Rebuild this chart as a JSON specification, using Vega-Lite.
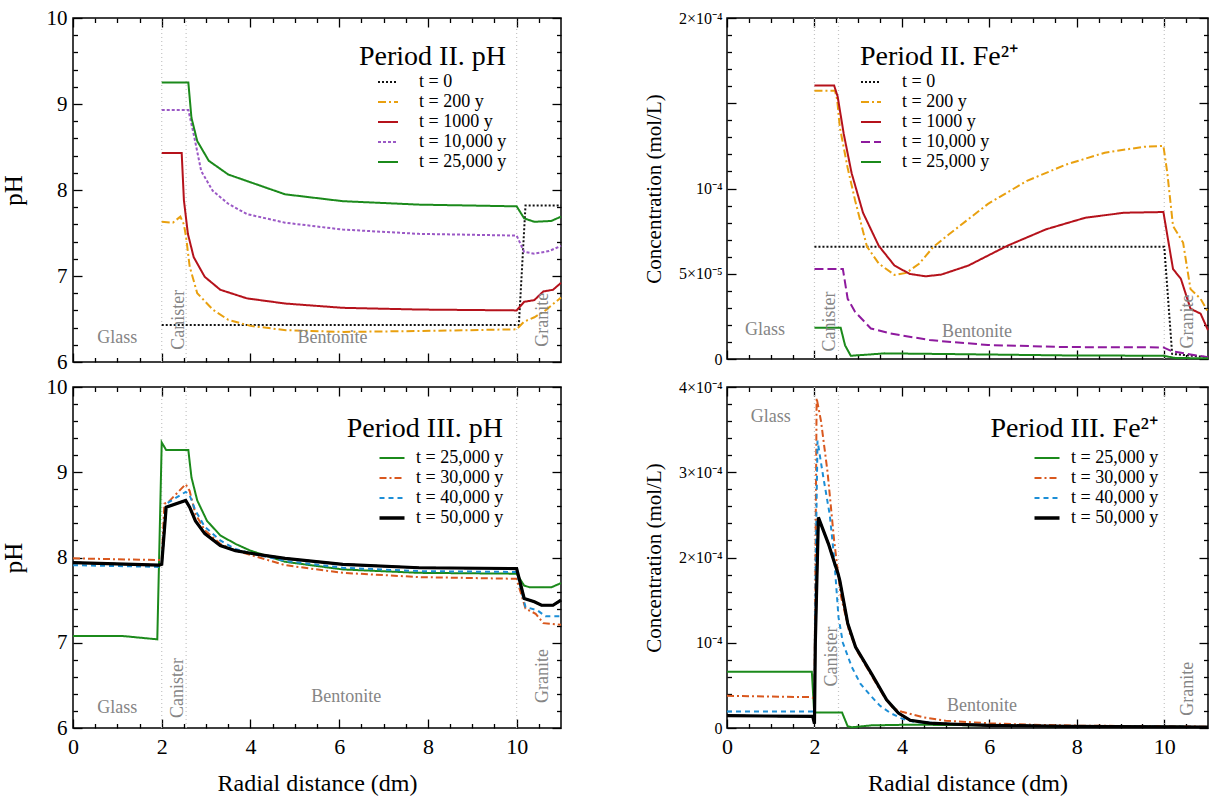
{
  "$schema": "https://vega.github.io/schema/vega-lite/v6.json",
  "padding": {"left": 0, "top": 6, "right": 0, "bottom": 0},
  "background": "white",
  "bounds": "flush",
  "columns": 2,
  "spacing": {"row": 25, "column": 166},
  "resolve": {"scale": {"color": "independent", "strokeDash": "independent", "x": "independent", "y": "independent"}, "legend": {"color": "independent", "strokeDash": "independent"}},
  "config": {
    "font": "Liberation Serif",
    "view": {"stroke": "black", "strokeWidth": 1.5},
    "axis": {"grid": false, "domain": false, "tickColor": "black", "labelColor": "black", "titleColor": "black", "labelFont": "Liberation Serif", "titleFont": "Liberation Serif", "titleFontWeight": "normal", "labelFlush": false, "labelOverlap": false, "tickWidth": 1.3, "labelLimit": 300},
    "legend": {"labelFont": "Liberation Serif", "labelFontSize": 18, "labelColor": "black", "titleFont": "Liberation Serif", "titleFontSize": 28, "titleFontWeight": "normal", "titleColor": "black", "symbolType": "stroke", "symbolSize": 625, "symbolStrokeWidth": 2, "rowPadding": 2, "labelOffset": 15, "titleAnchor": "end", "titlePadding": 6, "orient": "none", "titleLimit": 500, "labelLimit": 300},
    "text": {"font": "Liberation Serif"}
  },
  "datasets": {
    "bounds": [{"x": 2}, {"x": 2.55}, {"x": 10}],
    "regions": [
      {"panel": "tl", "name": "Glass", "x": 1.0, "y": 6.28},
      {"panel": "tl", "name": "Canister", "x": 2.38, "y": 6.49},
      {"panel": "tl", "name": "Bentonite", "x": 5.85, "y": 6.28},
      {"panel": "tl", "name": "Granite", "x": 10.6, "y": 6.49},
      {"panel": "tr", "name": "Glass", "x": 0.87, "y": 1.7e-5},
      {"panel": "tr", "name": "Canister", "x": 2.35, "y": 2.2e-5},
      {"panel": "tr", "name": "Bentonite", "x": 5.72, "y": 1.6e-5},
      {"panel": "tr", "name": "Granite", "x": 10.54, "y": 2.2e-5},
      {"panel": "bl", "name": "Glass", "x": 1.0, "y": 6.23},
      {"panel": "bl", "name": "Canister", "x": 2.37, "y": 6.47},
      {"panel": "bl", "name": "Bentonite", "x": 6.16, "y": 6.36},
      {"panel": "bl", "name": "Granite", "x": 10.6, "y": 6.61},
      {"panel": "br", "name": "Glass", "x": 1.0, "y": 3.65e-4},
      {"panel": "br", "name": "Canister", "x": 2.4, "y": 8.4e-5},
      {"panel": "br", "name": "Bentonite", "x": 5.83, "y": 2.6e-5},
      {"panel": "br", "name": "Granite", "x": 10.55, "y": 4.6e-5}
    ],
    "tl": [
      {"t": "t = 0", "x": 2, "v": 6.43}, {"t": "t = 0", "x": 10.05, "v": 6.43}, {"t": "t = 0", "x": 10.2, "v": 7.82}, {"t": "t = 0", "x": 11, "v": 7.82},
      {"t": "t = 200 y", "x": 2, "v": 7.63}, {"t": "t = 200 y", "x": 2.25, "v": 7.62}, {"t": "t = 200 y", "x": 2.42, "v": 7.69}, {"t": "t = 200 y", "x": 2.5, "v": 7.6}, {"t": "t = 200 y", "x": 2.55, "v": 7.45}, {"t": "t = 200 y", "x": 2.63, "v": 7.11}, {"t": "t = 200 y", "x": 2.8, "v": 6.8}, {"t": "t = 200 y", "x": 3.15, "v": 6.61}, {"t": "t = 200 y", "x": 3.5, "v": 6.49}, {"t": "t = 200 y", "x": 4, "v": 6.42}, {"t": "t = 200 y", "x": 4.8, "v": 6.37}, {"t": "t = 200 y", "x": 6.1, "v": 6.35}, {"t": "t = 200 y", "x": 7.8, "v": 6.36}, {"t": "t = 200 y", "x": 10, "v": 6.38}, {"t": "t = 200 y", "x": 10.17, "v": 6.47}, {"t": "t = 200 y", "x": 10.4, "v": 6.52}, {"t": "t = 200 y", "x": 10.65, "v": 6.6}, {"t": "t = 200 y", "x": 11, "v": 6.75},
      {"t": "t = 1000 y", "x": 2, "v": 8.43}, {"t": "t = 1000 y", "x": 2.45, "v": 8.43}, {"t": "t = 1000 y", "x": 2.5, "v": 7.88}, {"t": "t = 1000 y", "x": 2.59, "v": 7.49}, {"t": "t = 1000 y", "x": 2.72, "v": 7.22}, {"t": "t = 1000 y", "x": 2.97, "v": 6.99}, {"t": "t = 1000 y", "x": 3.32, "v": 6.84}, {"t": "t = 1000 y", "x": 3.92, "v": 6.74}, {"t": "t = 1000 y", "x": 4.78, "v": 6.68}, {"t": "t = 1000 y", "x": 6.08, "v": 6.63}, {"t": "t = 1000 y", "x": 7.8, "v": 6.61}, {"t": "t = 1000 y", "x": 10, "v": 6.6}, {"t": "t = 1000 y", "x": 10.17, "v": 6.7}, {"t": "t = 1000 y", "x": 10.4, "v": 6.72}, {"t": "t = 1000 y", "x": 10.6, "v": 6.82}, {"t": "t = 1000 y", "x": 10.82, "v": 6.84}, {"t": "t = 1000 y", "x": 11, "v": 6.92},
      {"t": "t = 10,000 y", "x": 2, "v": 8.93}, {"t": "t = 10,000 y", "x": 2.6, "v": 8.93}, {"t": "t = 10,000 y", "x": 2.72, "v": 8.65}, {"t": "t = 10,000 y", "x": 2.89, "v": 8.22}, {"t": "t = 10,000 y", "x": 3.15, "v": 7.99}, {"t": "t = 10,000 y", "x": 3.5, "v": 7.84}, {"t": "t = 10,000 y", "x": 3.92, "v": 7.72}, {"t": "t = 10,000 y", "x": 4.78, "v": 7.62}, {"t": "t = 10,000 y", "x": 6.08, "v": 7.54}, {"t": "t = 10,000 y", "x": 7.8, "v": 7.49}, {"t": "t = 10,000 y", "x": 10, "v": 7.47}, {"t": "t = 10,000 y", "x": 10.17, "v": 7.28}, {"t": "t = 10,000 y", "x": 10.4, "v": 7.26}, {"t": "t = 10,000 y", "x": 10.73, "v": 7.29}, {"t": "t = 10,000 y", "x": 11, "v": 7.35},
      {"t": "t = 25,000 y", "x": 2, "v": 9.25}, {"t": "t = 25,000 y", "x": 2.6, "v": 9.25}, {"t": "t = 25,000 y", "x": 2.67, "v": 8.84}, {"t": "t = 25,000 y", "x": 2.8, "v": 8.57}, {"t": "t = 25,000 y", "x": 3.06, "v": 8.34}, {"t": "t = 25,000 y", "x": 3.5, "v": 8.18}, {"t": "t = 25,000 y", "x": 4, "v": 8.09}, {"t": "t = 25,000 y", "x": 4.78, "v": 7.95}, {"t": "t = 25,000 y", "x": 6.08, "v": 7.87}, {"t": "t = 25,000 y", "x": 7.8, "v": 7.83}, {"t": "t = 25,000 y", "x": 10, "v": 7.81}, {"t": "t = 25,000 y", "x": 10.17, "v": 7.67}, {"t": "t = 25,000 y", "x": 10.4, "v": 7.63}, {"t": "t = 25,000 y", "x": 10.78, "v": 7.64}, {"t": "t = 25,000 y", "x": 11, "v": 7.69}
    ],
    "tr": [
      {"t": "t = 0", "x": 2, "v": 6.58e-5}, {"t": "t = 0", "x": 10, "v": 6.58e-5}, {"t": "t = 0", "x": 10.18, "v": 3e-6}, {"t": "t = 0", "x": 11, "v": 1e-6},
      {"t": "t = 200 y", "x": 2, "v": 1.573e-4}, {"t": "t = 200 y", "x": 2.47, "v": 1.573e-4}, {"t": "t = 200 y", "x": 2.52, "v": 1.52e-4}, {"t": "t = 200 y", "x": 2.58, "v": 1.36e-4}, {"t": "t = 200 y", "x": 2.76, "v": 1.12e-4}, {"t": "t = 200 y", "x": 2.93, "v": 9.3e-5}, {"t": "t = 200 y", "x": 3.2, "v": 6.6e-5}, {"t": "t = 200 y", "x": 3.47, "v": 5.6e-5}, {"t": "t = 200 y", "x": 3.83, "v": 4.93e-5}, {"t": "t = 200 y", "x": 4.1, "v": 5.05e-5}, {"t": "t = 200 y", "x": 4.4, "v": 5.6e-5}, {"t": "t = 200 y", "x": 4.72, "v": 6.58e-5}, {"t": "t = 200 y", "x": 5.07, "v": 7.3e-5}, {"t": "t = 200 y", "x": 5.97, "v": 9.1e-5}, {"t": "t = 200 y", "x": 6.86, "v": 1.045e-4}, {"t": "t = 200 y", "x": 7.75, "v": 1.14e-4}, {"t": "t = 200 y", "x": 8.64, "v": 1.21e-4}, {"t": "t = 200 y", "x": 9.54, "v": 1.245e-4}, {"t": "t = 200 y", "x": 9.98, "v": 1.25e-4}, {"t": "t = 200 y", "x": 10.07, "v": 1.09e-4}, {"t": "t = 200 y", "x": 10.2, "v": 7.8e-5}, {"t": "t = 200 y", "x": 10.43, "v": 6.83e-5}, {"t": "t = 200 y", "x": 10.6, "v": 4.1e-5}, {"t": "t = 200 y", "x": 10.83, "v": 3.53e-5}, {"t": "t = 200 y", "x": 11, "v": 2.76e-5},
      {"t": "t = 1000 y", "x": 2, "v": 1.604e-4}, {"t": "t = 1000 y", "x": 2.45, "v": 1.604e-4}, {"t": "t = 1000 y", "x": 2.53, "v": 1.54e-4}, {"t": "t = 1000 y", "x": 2.67, "v": 1.32e-4}, {"t": "t = 1000 y", "x": 2.85, "v": 1.09e-4}, {"t": "t = 1000 y", "x": 3.11, "v": 8.58e-5}, {"t": "t = 1000 y", "x": 3.47, "v": 6.64e-5}, {"t": "t = 1000 y", "x": 3.83, "v": 5.48e-5}, {"t": "t = 1000 y", "x": 4.18, "v": 4.99e-5}, {"t": "t = 1000 y", "x": 4.54, "v": 4.85e-5}, {"t": "t = 1000 y", "x": 4.9, "v": 4.95e-5}, {"t": "t = 1000 y", "x": 5.52, "v": 5.48e-5}, {"t": "t = 1000 y", "x": 6.41, "v": 6.64e-5}, {"t": "t = 1000 y", "x": 7.3, "v": 7.61e-5}, {"t": "t = 1000 y", "x": 8.2, "v": 8.29e-5}, {"t": "t = 1000 y", "x": 9.09, "v": 8.58e-5}, {"t": "t = 1000 y", "x": 9.98, "v": 8.62e-5}, {"t": "t = 1000 y", "x": 10.2, "v": 5.28e-5}, {"t": "t = 1000 y", "x": 10.38, "v": 4.7e-5}, {"t": "t = 1000 y", "x": 10.6, "v": 2.95e-5}, {"t": "t = 1000 y", "x": 10.83, "v": 2.66e-5}, {"t": "t = 1000 y", "x": 11, "v": 1.69e-5},
      {"t": "t = 10,000 y", "x": 2, "v": 5.28e-5}, {"t": "t = 10,000 y", "x": 2.65, "v": 5.28e-5}, {"t": "t = 10,000 y", "x": 2.76, "v": 3.53e-5}, {"t": "t = 10,000 y", "x": 2.93, "v": 2.76e-5}, {"t": "t = 10,000 y", "x": 3.29, "v": 1.79e-5}, {"t": "t = 10,000 y", "x": 3.74, "v": 1.5e-5}, {"t": "t = 10,000 y", "x": 4.63, "v": 1.11e-5}, {"t": "t = 10,000 y", "x": 5.97, "v": 8.2e-6}, {"t": "t = 10,000 y", "x": 7.75, "v": 7e-6}, {"t": "t = 10,000 y", "x": 9.98, "v": 6.8e-6}, {"t": "t = 10,000 y", "x": 10.16, "v": 4.7e-6}, {"t": "t = 10,000 y", "x": 10.6, "v": 2.7e-6}, {"t": "t = 10,000 y", "x": 11, "v": 1e-6},
      {"t": "t = 25,000 y", "x": 2, "v": 1.83e-5}, {"t": "t = 25,000 y", "x": 2.6, "v": 1.83e-5}, {"t": "t = 25,000 y", "x": 2.7, "v": 8e-6}, {"t": "t = 25,000 y", "x": 2.83, "v": 1.9e-6}, {"t": "t = 25,000 y", "x": 3.29, "v": 2.7e-6}, {"t": "t = 25,000 y", "x": 3.6, "v": 3.3e-6}, {"t": "t = 25,000 y", "x": 5.07, "v": 2.9e-6}, {"t": "t = 25,000 y", "x": 7.75, "v": 2.1e-6}, {"t": "t = 25,000 y", "x": 9.98, "v": 1.9e-6}, {"t": "t = 25,000 y", "x": 10.25, "v": 6e-7}, {"t": "t = 25,000 y", "x": 11, "v": 4e-7}
    ],
    "bl": [
      {"t": "t = 25,000 y", "x": 0, "v": 7.08}, {"t": "t = 25,000 y", "x": 1.1, "v": 7.08}, {"t": "t = 25,000 y", "x": 1.9, "v": 7.04}, {"t": "t = 25,000 y", "x": 2.0, "v": 9.35}, {"t": "t = 25,000 y", "x": 2.1, "v": 9.26}, {"t": "t = 25,000 y", "x": 2.6, "v": 9.26}, {"t": "t = 25,000 y", "x": 2.67, "v": 8.94}, {"t": "t = 25,000 y", "x": 2.8, "v": 8.67}, {"t": "t = 25,000 y", "x": 3.02, "v": 8.43}, {"t": "t = 25,000 y", "x": 3.32, "v": 8.26}, {"t": "t = 25,000 y", "x": 3.66, "v": 8.16}, {"t": "t = 25,000 y", "x": 4, "v": 8.08}, {"t": "t = 25,000 y", "x": 4.78, "v": 7.95}, {"t": "t = 25,000 y", "x": 6.08, "v": 7.86}, {"t": "t = 25,000 y", "x": 7.8, "v": 7.82}, {"t": "t = 25,000 y", "x": 10, "v": 7.81}, {"t": "t = 25,000 y", "x": 10.17, "v": 7.67}, {"t": "t = 25,000 y", "x": 10.3, "v": 7.65}, {"t": "t = 25,000 y", "x": 10.78, "v": 7.65}, {"t": "t = 25,000 y", "x": 11, "v": 7.7},
      {"t": "t = 30,000 y", "x": 0, "v": 7.99}, {"t": "t = 30,000 y", "x": 1.94, "v": 7.97}, {"t": "t = 30,000 y", "x": 2.0, "v": 7.97}, {"t": "t = 30,000 y", "x": 2.06, "v": 8.63}, {"t": "t = 30,000 y", "x": 2.15, "v": 8.65}, {"t": "t = 30,000 y", "x": 2.54, "v": 8.86}, {"t": "t = 30,000 y", "x": 2.63, "v": 8.78}, {"t": "t = 30,000 y", "x": 2.76, "v": 8.51}, {"t": "t = 30,000 y", "x": 2.97, "v": 8.32}, {"t": "t = 30,000 y", "x": 3.32, "v": 8.16}, {"t": "t = 30,000 y", "x": 3.66, "v": 8.08}, {"t": "t = 30,000 y", "x": 4, "v": 8.03}, {"t": "t = 30,000 y", "x": 4.78, "v": 7.91}, {"t": "t = 30,000 y", "x": 6.08, "v": 7.82}, {"t": "t = 30,000 y", "x": 7.8, "v": 7.77}, {"t": "t = 30,000 y", "x": 10, "v": 7.75}, {"t": "t = 30,000 y", "x": 10.2, "v": 7.4}, {"t": "t = 30,000 y", "x": 10.43, "v": 7.34}, {"t": "t = 30,000 y", "x": 10.6, "v": 7.23}, {"t": "t = 30,000 y", "x": 11, "v": 7.21},
      {"t": "t = 40,000 y", "x": 0, "v": 7.91}, {"t": "t = 40,000 y", "x": 1.94, "v": 7.89}, {"t": "t = 40,000 y", "x": 2.0, "v": 7.9}, {"t": "t = 40,000 y", "x": 2.1, "v": 8.63}, {"t": "t = 40,000 y", "x": 2.54, "v": 8.77}, {"t": "t = 40,000 y", "x": 2.63, "v": 8.73}, {"t": "t = 40,000 y", "x": 2.76, "v": 8.55}, {"t": "t = 40,000 y", "x": 2.97, "v": 8.36}, {"t": "t = 40,000 y", "x": 3.32, "v": 8.2}, {"t": "t = 40,000 y", "x": 3.66, "v": 8.1}, {"t": "t = 40,000 y", "x": 4, "v": 8.05}, {"t": "t = 40,000 y", "x": 4.78, "v": 7.96}, {"t": "t = 40,000 y", "x": 6.08, "v": 7.88}, {"t": "t = 40,000 y", "x": 7.8, "v": 7.84}, {"t": "t = 40,000 y", "x": 10, "v": 7.83}, {"t": "t = 40,000 y", "x": 10.2, "v": 7.42}, {"t": "t = 40,000 y", "x": 10.47, "v": 7.38}, {"t": "t = 40,000 y", "x": 10.65, "v": 7.31}, {"t": "t = 40,000 y", "x": 11, "v": 7.31},
      {"t": "t = 50,000 y", "x": 0, "v": 7.94}, {"t": "t = 50,000 y", "x": 1.94, "v": 7.91}, {"t": "t = 50,000 y", "x": 2.0, "v": 7.92}, {"t": "t = 50,000 y", "x": 2.1, "v": 8.59}, {"t": "t = 50,000 y", "x": 2.54, "v": 8.67}, {"t": "t = 50,000 y", "x": 2.63, "v": 8.59}, {"t": "t = 50,000 y", "x": 2.76, "v": 8.43}, {"t": "t = 50,000 y", "x": 2.97, "v": 8.28}, {"t": "t = 50,000 y", "x": 3.32, "v": 8.14}, {"t": "t = 50,000 y", "x": 3.66, "v": 8.08}, {"t": "t = 50,000 y", "x": 4, "v": 8.05}, {"t": "t = 50,000 y", "x": 4.78, "v": 7.99}, {"t": "t = 50,000 y", "x": 6.08, "v": 7.92}, {"t": "t = 50,000 y", "x": 7.8, "v": 7.88}, {"t": "t = 50,000 y", "x": 10, "v": 7.87}, {"t": "t = 50,000 y", "x": 10.17, "v": 7.52}, {"t": "t = 50,000 y", "x": 10.4, "v": 7.48}, {"t": "t = 50,000 y", "x": 10.56, "v": 7.44}, {"t": "t = 50,000 y", "x": 10.82, "v": 7.44}, {"t": "t = 50,000 y", "x": 11, "v": 7.5}
    ],
    "br": [
      {"t": "t = 25,000 y", "x": 0, "v": 6.61e-5}, {"t": "t = 25,000 y", "x": 1.94, "v": 6.61e-5}, {"t": "t = 25,000 y", "x": 1.99, "v": 2.1e-5}, {"t": "t = 25,000 y", "x": 2.01, "v": 1.83e-5}, {"t": "t = 25,000 y", "x": 2.63, "v": 1.83e-5}, {"t": "t = 25,000 y", "x": 2.76, "v": 2e-6}, {"t": "t = 25,000 y", "x": 2.85, "v": 8e-7}, {"t": "t = 25,000 y", "x": 3.3, "v": 3.1e-6}, {"t": "t = 25,000 y", "x": 4.19, "v": 3.9e-6}, {"t": "t = 25,000 y", "x": 5.97, "v": 3.1e-6}, {"t": "t = 25,000 y", "x": 7.75, "v": 1.9e-6}, {"t": "t = 25,000 y", "x": 11, "v": 1.2e-6},
      {"t": "t = 30,000 y", "x": 0, "v": 3.77e-5}, {"t": "t = 30,000 y", "x": 1.92, "v": 3.62e-5}, {"t": "t = 30,000 y", "x": 2.0, "v": 3.5e-5}, {"t": "t = 30,000 y", "x": 2.05, "v": 3.87e-4}, {"t": "t = 30,000 y", "x": 2.15, "v": 3.6e-4}, {"t": "t = 30,000 y", "x": 2.3, "v": 3.0e-4}, {"t": "t = 30,000 y", "x": 2.45, "v": 2.2e-4}, {"t": "t = 30,000 y", "x": 2.6, "v": 1.56e-4}, {"t": "t = 30,000 y", "x": 2.8, "v": 1.12e-4}, {"t": "t = 30,000 y", "x": 3.0, "v": 8.8e-5}, {"t": "t = 30,000 y", "x": 3.3, "v": 6.2e-5}, {"t": "t = 30,000 y", "x": 3.6, "v": 3.6e-5}, {"t": "t = 30,000 y", "x": 3.8, "v": 2.3e-5}, {"t": "t = 30,000 y", "x": 4.0, "v": 1.9e-5}, {"t": "t = 30,000 y", "x": 4.5, "v": 1.25e-5}, {"t": "t = 30,000 y", "x": 5.0, "v": 8.5e-6}, {"t": "t = 30,000 y", "x": 6.0, "v": 5.5e-6}, {"t": "t = 30,000 y", "x": 7.0, "v": 3.8e-6}, {"t": "t = 30,000 y", "x": 8.0, "v": 2.8e-6}, {"t": "t = 30,000 y", "x": 10, "v": 2e-6}, {"t": "t = 30,000 y", "x": 11, "v": 1.5e-6},
      {"t": "t = 40,000 y", "x": 0, "v": 1.95e-5}, {"t": "t = 40,000 y", "x": 1.97, "v": 1.95e-5}, {"t": "t = 40,000 y", "x": 2.0, "v": 1.0e-5}, {"t": "t = 40,000 y", "x": 2.03, "v": 2.0e-4}, {"t": "t = 40,000 y", "x": 2.07, "v": 3.37e-4}, {"t": "t = 40,000 y", "x": 2.2, "v": 2.95e-4}, {"t": "t = 40,000 y", "x": 2.35, "v": 2.5e-4}, {"t": "t = 40,000 y", "x": 2.45, "v": 2.0e-4}, {"t": "t = 40,000 y", "x": 2.55, "v": 1.3e-4}, {"t": "t = 40,000 y", "x": 2.65, "v": 1.0e-4}, {"t": "t = 40,000 y", "x": 2.85, "v": 7.2e-5}, {"t": "t = 40,000 y", "x": 3.05, "v": 5.2e-5}, {"t": "t = 40,000 y", "x": 3.3, "v": 3.7e-5}, {"t": "t = 40,000 y", "x": 3.5, "v": 2.6e-5}, {"t": "t = 40,000 y", "x": 3.74, "v": 1.75e-5}, {"t": "t = 40,000 y", "x": 4.0, "v": 1.1e-5}, {"t": "t = 40,000 y", "x": 4.3, "v": 7e-6}, {"t": "t = 40,000 y", "x": 5.5, "v": 4e-6}, {"t": "t = 40,000 y", "x": 7, "v": 2.5e-6}, {"t": "t = 40,000 y", "x": 11, "v": 1.2e-6},
      {"t": "t = 50,000 y", "x": 0, "v": 1.44e-5}, {"t": "t = 50,000 y", "x": 1.96, "v": 1.36e-5}, {"t": "t = 50,000 y", "x": 2.0, "v": 5e-6}, {"t": "t = 50,000 y", "x": 2.02, "v": 1.0e-4}, {"t": "t = 50,000 y", "x": 2.09, "v": 2.47e-4}, {"t": "t = 50,000 y", "x": 2.32, "v": 2.16e-4}, {"t": "t = 50,000 y", "x": 2.45, "v": 1.95e-4}, {"t": "t = 50,000 y", "x": 2.54, "v": 1.81e-4}, {"t": "t = 50,000 y", "x": 2.58, "v": 1.73e-4}, {"t": "t = 50,000 y", "x": 2.76, "v": 1.23e-4}, {"t": "t = 50,000 y", "x": 2.94, "v": 9.5e-5}, {"t": "t = 50,000 y", "x": 3.3, "v": 6.4e-5}, {"t": "t = 50,000 y", "x": 3.65, "v": 3.3e-5}, {"t": "t = 50,000 y", "x": 3.92, "v": 1.75e-5}, {"t": "t = 50,000 y", "x": 4.19, "v": 9e-6}, {"t": "t = 50,000 y", "x": 4.63, "v": 5.8e-6}, {"t": "t = 50,000 y", "x": 5.08, "v": 4.7e-6}, {"t": "t = 50,000 y", "x": 5.97, "v": 3.1e-6}, {"t": "t = 50,000 y", "x": 7.75, "v": 1.9e-6}, {"t": "t = 50,000 y", "x": 11, "v": 1.2e-6}
    ]
  },
  "concat": [
    {
      "width": 488, "height": 344,
      "data": {"name": "tl"},
      "resolve": {"axis": {"x": "independent", "y": "independent"}},
      "layer": [
        {"data": {"name": "bounds"}, "mark": {"type": "rule", "color": "#c4c4c4", "strokeDash": [1, 3], "strokeWidth": 1.2},
         "encoding": {
           "x": {"field": "x", "type": "quantitative", "scale": {"domain": [0, 11], "nice": false}, "axis": {"orient": "top", "values": [0.5,1,1.5,2.5,3,3.5,4.5,5,5.5,6.5,7,7.5,8.5,9,9.5,10.5], "labels": false, "tickSize": -4.5, "title": null}},
           "y": {"datum": 6, "type": "quantitative", "scale": {"domain": [6, 10], "nice": false}, "axis": {"orient": "right", "values": [6.2,6.4,6.6,6.8,7.2,7.4,7.6,7.8,8.2,8.4,8.6,8.8,9.2,9.4,9.6,9.8], "labels": false, "tickSize": -4.5, "title": null}},
           "y2": {"datum": 10}}},
        {"mark": {"type": "line", "strokeWidth": 2},
         "encoding": {
           "x": {"field": "x", "type": "quantitative", "scale": {"domain": [0, 11], "nice": false}, "axis": {"orient": "bottom", "values": [0,2,4,6,8,10], "labels": false, "tickSize": -9, "title": null}},
           "y": {"field": "v", "type": "quantitative", "scale": {"domain": [6, 10], "nice": false}, "axis": {"orient": "left", "values": [6,7,8,9,10], "tickSize": -9, "labelFontSize": 21, "labelPadding": 15, "title": "pH", "titleFontSize": 25, "titlePadding": 20}},
           "color": {"field": "t", "type": "nominal", "scale": {"domain": ["t = 0", "t = 200 y", "t = 1000 y", "t = 10,000 y", "t = 25,000 y"], "range": ["#111111", "#E9A00F", "#B5121B", "#9B59C6", "#1B8A1B"]}, "legend": {"title": "Period II. pH", "legendX": 286, "legendY": 25, "titlePadding": 0, "symbolSize": 400, "rowPadding": 0, "labelOffset": 20, "encode": {"symbols": {"update": {"strokeWidth": {"value": 2}}}}}},
           "strokeDash": {"field": "t", "type": "nominal", "scale": {"domain": ["t = 0", "t = 200 y", "t = 1000 y", "t = 10,000 y", "t = 25,000 y"], "range": [[2, 2], [8, 3, 2, 3], [1, 0], [3, 2], [1, 0]]}, "legend": {"title": "Period II. pH", "legendX": 286, "legendY": 25, "titlePadding": 0, "symbolSize": 400, "rowPadding": 0, "labelOffset": 20, "encode": {"symbols": {"update": {"strokeWidth": {"value": 2}}}}}}}},
        {"data": {"name": "regions"}, "transform": [{"filter": "datum.panel === 'tl' && (datum.name === 'Glass' || datum.name === 'Bentonite')"}],
         "mark": {"type": "text", "fontSize": 18, "color": "#858585", "align": "center", "baseline": "middle"},
         "encoding": {
           "text": {"field": "name"},
           "x": {"field": "x", "type": "quantitative", "axis": {"orient": "bottom", "values": [0.5,1,1.5,2.5,3,3.5,4.5,5,5.5,6.5,7,7.5,8.5,9,9.5,10.5], "labels": false, "tickSize": -4.5, "title": null}},
           "y": {"field": "y", "type": "quantitative", "axis": {"orient": "left", "values": [6.2,6.4,6.6,6.8,7.2,7.4,7.6,7.8,8.2,8.4,8.6,8.8,9.2,9.4,9.6,9.8], "labels": false, "tickSize": -4.5, "title": null}}}},
        {"data": {"name": "regions"}, "transform": [{"filter": "datum.panel === 'tl' && (datum.name === 'Canister' || datum.name === 'Granite')"}],
         "mark": {"type": "text", "fontSize": 18, "color": "#858585", "align": "center", "baseline": "middle", "angle": 270},
         "encoding": {
           "text": {"field": "name"},
           "x": {"field": "x", "type": "quantitative", "axis": {"orient": "top", "values": [0,2,4,6,8,10], "labels": false, "tickSize": -9, "title": null}},
           "y": {"field": "y", "type": "quantitative", "axis": {"orient": "right", "values": [6,7,8,9,10], "labels": false, "tickSize": -9, "title": null}}}}
      ]
    },
    {
      "width": 481, "height": 341,
      "data": {"name": "tr"},
      "resolve": {"axis": {"x": "independent", "y": "independent"}},
      "layer": [
        {"data": {"name": "bounds"}, "mark": {"type": "rule", "color": "#c4c4c4", "strokeDash": [1, 3], "strokeWidth": 1.2},
         "encoding": {
           "x": {"field": "x", "type": "quantitative", "scale": {"domain": [0, 11], "nice": false}, "axis": {"orient": "top", "values": [0.5,1,1.5,2.5,3,3.5,4.5,5,5.5,6.5,7,7.5,8.5,9,9.5,10.5], "labels": false, "tickSize": -4.5, "title": null}},
           "y": {"datum": 0, "type": "quantitative", "scale": {"domain": [0, 0.0002], "nice": false}, "axis": {"orient": "right", "values": [1e-5,2e-5,3e-5,4e-5,6e-5,7e-5,8e-5,9e-5,1.1e-4,1.2e-4,1.3e-4,1.4e-4,1.6e-4,1.7e-4,1.8e-4,1.9e-4], "labels": false, "tickSize": -4.5, "title": null}},
           "y2": {"datum": 0.0002}}},
        {"mark": {"type": "line", "strokeWidth": 2},
         "encoding": {
           "x": {"field": "x", "type": "quantitative", "scale": {"domain": [0, 11], "nice": false}, "axis": {"orient": "bottom", "values": [0,2,4,6,8,10], "labels": false, "tickSize": -9, "title": null}},
           "y": {"field": "v", "type": "quantitative", "scale": {"domain": [0, 0.0002], "nice": false}, "axis": {"orient": "left", "values": [0, 5e-5, 1e-4, 1.5e-4, 2e-4], "labelExpr": "datum.value < 1e-6 ? '0' : datum.value < 7e-5 ? '5×10⁻⁵' : datum.value < 1.2e-4 ? '10⁻⁴' : datum.value < 1.7e-4 ? '' : '2×10⁻⁴'", "tickSize": -9, "labelFontSize": 16, "labelPadding": 14, "title": "Concentration (mol/L)", "titleFontSize": 21, "titlePadding": 14}},
           "color": {"field": "t", "type": "nominal", "scale": {"domain": ["t = 0", "t = 200 y", "t = 1000 y", "t = 10,000 y", "t = 25,000 y"], "range": ["#111111", "#E9A00F", "#B5121B", "#8E1A9E", "#1B8A1B"]}, "legend": {"title": "Period II. Fe²⁺", "legendX": 133, "legendY": 25, "titlePadding": 0, "titleAnchor": "start", "symbolSize": 400, "rowPadding": 0, "labelOffset": 20, "encode": {"symbols": {"update": {"strokeWidth": {"value": 2}}}}}},
           "strokeDash": {"field": "t", "type": "nominal", "scale": {"domain": ["t = 0", "t = 200 y", "t = 1000 y", "t = 10,000 y", "t = 25,000 y"], "range": [[2, 2], [8, 3, 2, 3], [1, 0], [9, 4], [1, 0]]}, "legend": {"title": "Period II. Fe²⁺", "legendX": 133, "legendY": 25, "titlePadding": 0, "titleAnchor": "start", "symbolSize": 400, "rowPadding": 0, "labelOffset": 20, "encode": {"symbols": {"update": {"strokeWidth": {"value": 2}}}}}}}},
        {"data": {"name": "regions"}, "transform": [{"filter": "datum.panel === 'tr' && (datum.name === 'Glass' || datum.name === 'Bentonite')"}],
         "mark": {"type": "text", "fontSize": 18, "color": "#858585", "align": "center", "baseline": "middle"},
         "encoding": {
           "text": {"field": "name"},
           "x": {"field": "x", "type": "quantitative", "axis": {"orient": "bottom", "values": [0.5,1,1.5,2.5,3,3.5,4.5,5,5.5,6.5,7,7.5,8.5,9,9.5,10.5], "labels": false, "tickSize": -4.5, "title": null}},
           "y": {"field": "y", "type": "quantitative", "axis": {"orient": "left", "values": [1e-5,2e-5,3e-5,4e-5,6e-5,7e-5,8e-5,9e-5,1.1e-4,1.2e-4,1.3e-4,1.4e-4,1.6e-4,1.7e-4,1.8e-4,1.9e-4], "labels": false, "tickSize": -4.5, "title": null}}}},
        {"data": {"name": "regions"}, "transform": [{"filter": "datum.panel === 'tr' && (datum.name === 'Canister' || datum.name === 'Granite')"}],
         "mark": {"type": "text", "fontSize": 18, "color": "#858585", "align": "center", "baseline": "middle", "angle": 270},
         "encoding": {
           "text": {"field": "name"},
           "x": {"field": "x", "type": "quantitative", "axis": {"orient": "top", "values": [0,2,4,6,8,10], "labels": false, "tickSize": -9, "title": null}},
           "y": {"field": "y", "type": "quantitative", "axis": {"orient": "right", "values": [0, 5e-5, 1e-4, 1.5e-4, 2e-4], "labels": false, "tickSize": -9, "title": null}}}}
      ]
    },
    {
      "width": 488, "height": 341,
      "data": {"name": "bl"},
      "resolve": {"axis": {"x": "independent", "y": "independent"}},
      "layer": [
        {"data": {"name": "bounds"}, "mark": {"type": "rule", "color": "#c4c4c4", "strokeDash": [1, 3], "strokeWidth": 1.2},
         "encoding": {
           "x": {"field": "x", "type": "quantitative", "scale": {"domain": [0, 11], "nice": false}, "axis": {"orient": "top", "values": [0.5,1,1.5,2.5,3,3.5,4.5,5,5.5,6.5,7,7.5,8.5,9,9.5,10.5], "labels": false, "tickSize": -4.5, "title": null}},
           "y": {"datum": 6, "type": "quantitative", "scale": {"domain": [6, 10], "nice": false}, "axis": {"orient": "right", "values": [6.2,6.4,6.6,6.8,7.2,7.4,7.6,7.8,8.2,8.4,8.6,8.8,9.2,9.4,9.6,9.8], "labels": false, "tickSize": -4.5, "title": null}},
           "y2": {"datum": 10}}},
        {"mark": {"type": "line", "strokeWidth": 2},
         "encoding": {
           "x": {"field": "x", "type": "quantitative", "scale": {"domain": [0, 11], "nice": false}, "axis": {"orient": "bottom", "values": [0,2,4,6,8,10], "tickSize": -9, "labelFontSize": 22, "labelPadding": 17, "title": "Radial distance (dm)", "titleFontSize": 24, "titlePadding": 14}},
           "y": {"field": "v", "type": "quantitative", "scale": {"domain": [6, 10], "nice": false}, "axis": {"orient": "left", "values": [6,7,8,9,10], "tickSize": -9, "labelFontSize": 21, "labelPadding": 15, "title": "pH", "titleFontSize": 25, "titlePadding": 20}},
           "color": {"field": "t", "type": "nominal", "scale": {"domain": ["t = 25,000 y", "t = 30,000 y", "t = 40,000 y", "t = 50,000 y"], "range": ["#1B8A1B", "#D9581E", "#1C8ED6", "#000000"]}, "legend": {"title": "Period III. pH", "legendX": 274, "legendY": 28, "encode": {"symbols": {"update": {"strokeWidth": {"signal": "datum.value === 't = 50,000 y' ? 3.4 : 2"}}}}}},
           "strokeDash": {"field": "t", "type": "nominal", "scale": {"domain": ["t = 25,000 y", "t = 30,000 y", "t = 40,000 y", "t = 50,000 y"], "range": [[1, 0], [7, 3, 2, 3], [5, 4], [1, 0]]}, "legend": {"title": "Period III. pH", "legendX": 274, "legendY": 28, "encode": {"symbols": {"update": {"strokeWidth": {"signal": "datum.value === 't = 50,000 y' ? 3.4 : 2"}}}}}}}},
        {"transform": [{"filter": "datum.t === 't = 50,000 y'"}], "mark": {"type": "line", "strokeWidth": 3.2, "color": "#000000"},
         "encoding": {"x": {"field": "x", "type": "quantitative", "axis": null}, "y": {"field": "v", "type": "quantitative", "axis": null}}},
        {"data": {"name": "regions"}, "transform": [{"filter": "datum.panel === 'bl' && (datum.name === 'Glass' || datum.name === 'Bentonite')"}],
         "mark": {"type": "text", "fontSize": 18, "color": "#858585", "align": "center", "baseline": "middle"},
         "encoding": {
           "text": {"field": "name"},
           "x": {"field": "x", "type": "quantitative", "axis": {"orient": "bottom", "values": [0.5,1,1.5,2.5,3,3.5,4.5,5,5.5,6.5,7,7.5,8.5,9,9.5,10.5], "labels": false, "tickSize": -4.5, "title": null}},
           "y": {"field": "y", "type": "quantitative", "axis": {"orient": "left", "values": [6.2,6.4,6.6,6.8,7.2,7.4,7.6,7.8,8.2,8.4,8.6,8.8,9.2,9.4,9.6,9.8], "labels": false, "tickSize": -4.5, "title": null}}}},
        {"data": {"name": "regions"}, "transform": [{"filter": "datum.panel === 'bl' && (datum.name === 'Canister' || datum.name === 'Granite')"}],
         "mark": {"type": "text", "fontSize": 18, "color": "#858585", "align": "center", "baseline": "middle", "angle": 270},
         "encoding": {
           "text": {"field": "name"},
           "x": {"field": "x", "type": "quantitative", "axis": {"orient": "top", "values": [0,2,4,6,8,10], "labels": false, "tickSize": -9, "title": null}},
           "y": {"field": "y", "type": "quantitative", "axis": {"orient": "right", "values": [6,7,8,9,10], "labels": false, "tickSize": -9, "title": null}}}}
      ]
    },
    {
      "width": 481, "height": 341,
      "data": {"name": "br"},
      "resolve": {"axis": {"x": "independent", "y": "independent"}},
      "layer": [
        {"data": {"name": "bounds"}, "mark": {"type": "rule", "color": "#c4c4c4", "strokeDash": [1, 3], "strokeWidth": 1.2},
         "encoding": {
           "x": {"field": "x", "type": "quantitative", "scale": {"domain": [0, 11], "nice": false}, "axis": {"orient": "top", "values": [0.5,1,1.5,2.5,3,3.5,4.5,5,5.5,6.5,7,7.5,8.5,9,9.5,10.5], "labels": false, "tickSize": -4.5, "title": null}},
           "y": {"datum": 0, "type": "quantitative", "scale": {"domain": [0, 0.0004], "nice": false}, "axis": {"orient": "right", "values": [2e-5,4e-5,6e-5,8e-5,1.2e-4,1.4e-4,1.6e-4,1.8e-4,2.2e-4,2.4e-4,2.6e-4,2.8e-4,3.2e-4,3.4e-4,3.6e-4,3.8e-4], "labels": false, "tickSize": -4.5, "title": null}},
           "y2": {"datum": 0.0004}}},
        {"mark": {"type": "line", "strokeWidth": 2},
         "encoding": {
           "x": {"field": "x", "type": "quantitative", "scale": {"domain": [0, 11], "nice": false}, "axis": {"orient": "bottom", "values": [0,2,4,6,8,10], "tickSize": -9, "labelFontSize": 22, "labelPadding": 17, "title": "Radial distance (dm)", "titleFontSize": 24, "titlePadding": 14}},
           "y": {"field": "v", "type": "quantitative", "scale": {"domain": [0, 0.0004], "nice": false}, "axis": {"orient": "left", "values": [0, 1e-4, 2e-4, 3e-4, 4e-4], "labelExpr": "datum.value < 1e-6 ? '0' : datum.value < 1.5e-4 ? '10⁻⁴' : datum.value < 2.5e-4 ? '2×10⁻⁴' : datum.value < 3.5e-4 ? '3×10⁻⁴' : '4×10⁻⁴'", "tickSize": -9, "labelFontSize": 16, "labelPadding": 14, "title": "Concentration (mol/L)", "titleFontSize": 21, "titlePadding": 14}},
           "color": {"field": "t", "type": "nominal", "scale": {"domain": ["t = 25,000 y", "t = 30,000 y", "t = 40,000 y", "t = 50,000 y"], "range": ["#1B8A1B", "#D9581E", "#1C8ED6", "#000000"]}, "legend": {"title": "Period III. Fe²⁺", "legendX": 264, "legendY": 28, "encode": {"symbols": {"update": {"strokeWidth": {"signal": "datum.value === 't = 50,000 y' ? 3.4 : 2"}}}}}},
           "strokeDash": {"field": "t", "type": "nominal", "scale": {"domain": ["t = 25,000 y", "t = 30,000 y", "t = 40,000 y", "t = 50,000 y"], "range": [[1, 0], [7, 3, 2, 3], [5, 4], [1, 0]]}, "legend": {"title": "Period III. Fe²⁺", "legendX": 264, "legendY": 28, "encode": {"symbols": {"update": {"strokeWidth": {"signal": "datum.value === 't = 50,000 y' ? 3.4 : 2"}}}}}}}},
        {"transform": [{"filter": "datum.t === 't = 50,000 y'"}], "mark": {"type": "line", "strokeWidth": 3.2, "color": "#000000"},
         "encoding": {"x": {"field": "x", "type": "quantitative", "axis": null}, "y": {"field": "v", "type": "quantitative", "axis": null}}},
        {"data": {"name": "regions"}, "transform": [{"filter": "datum.panel === 'br' && (datum.name === 'Glass' || datum.name === 'Bentonite')"}],
         "mark": {"type": "text", "fontSize": 18, "color": "#858585", "align": "center", "baseline": "middle"},
         "encoding": {
           "text": {"field": "name"},
           "x": {"field": "x", "type": "quantitative", "axis": {"orient": "bottom", "values": [0.5,1,1.5,2.5,3,3.5,4.5,5,5.5,6.5,7,7.5,8.5,9,9.5,10.5], "labels": false, "tickSize": -4.5, "title": null}},
           "y": {"field": "y", "type": "quantitative", "axis": {"orient": "left", "values": [2e-5,4e-5,6e-5,8e-5,1.2e-4,1.4e-4,1.6e-4,1.8e-4,2.2e-4,2.4e-4,2.6e-4,2.8e-4,3.2e-4,3.4e-4,3.6e-4,3.8e-4], "labels": false, "tickSize": -4.5, "title": null}}}},
        {"data": {"name": "regions"}, "transform": [{"filter": "datum.panel === 'br' && (datum.name === 'Canister' || datum.name === 'Granite')"}],
         "mark": {"type": "text", "fontSize": 18, "color": "#858585", "align": "center", "baseline": "middle", "angle": 270},
         "encoding": {
           "text": {"field": "name"},
           "x": {"field": "x", "type": "quantitative", "axis": {"orient": "top", "values": [0,2,4,6,8,10], "labels": false, "tickSize": -9, "title": null}},
           "y": {"field": "y", "type": "quantitative", "axis": {"orient": "right", "values": [0, 1e-4, 2e-4, 3e-4, 4e-4], "labels": false, "tickSize": -9, "title": null}}}}
      ]
    }
  ]
}
